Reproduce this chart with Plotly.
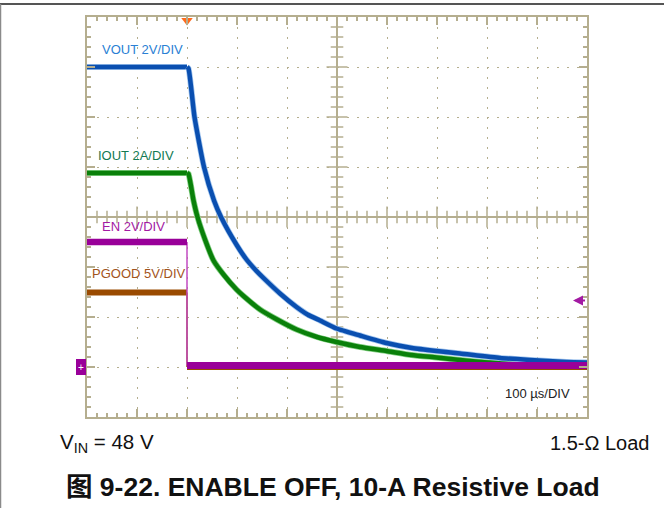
import plotly.graph_objects as go
import numpy as np

# ---------------- data (read from the scope capture) ----------------
# time in microseconds (100 us/DIV, trigger at t=0), amplitude in divisions (centre = 0)
vout_t = [-200, 0, 3, 15, 34, 54, 68, 100, 119, 139, 153, 186, 219, 241, 266, 299,
          346, 399, 450, 499, 546, 626, 686, 759, 800]
vout_div = [3.0, 3.0, 2.97, 2.0, 1.0, 0.33, 0.0, -0.57, -0.85, -1.08, -1.22, -1.53,
            -1.8, -1.95, -2.07, -2.23, -2.37, -2.52, -2.62, -2.68, -2.73, -2.82,
            -2.86, -2.9, -2.91]

iout_t = [-200, 0, 3, 13, 21, 36, 53, 73, 99, 113, 146, 180, 219, 260, 299,
          346, 399, 449, 499, 546, 566, 620, 700, 800]
iout_div = [0.88, 0.88, 0.86, 0.33, 0.0, -0.45, -0.87, -1.15, -1.45, -1.58, -1.85,
            -2.05, -2.25, -2.4, -2.5, -2.6, -2.68, -2.76, -2.81, -2.86, -2.88,
            -2.92, -2.95, -2.96]

en_t = [-200, 0, 0, 800]
en_div = [-0.5, -0.5, -2.97, -2.97]

pgood_t = [-200, 0, 0, 800]
pgood_div = [-1.51, -1.51, -3.0, -3.0]

channel_labels = ["VOUT 2V/DIV", "IOUT 2A/DIV", "EN 2V/DIV", "PGOOD 5V/DIV"]
label_t = [-174, -182, -174, -194]
label_div = [3.36, 1.24, -0.19, -1.12]
timebase_label = "100 µs/DIV"
vin_label = "V<sub>IN</sub> = 48 V"
load_label = "1.5-Ω Load"
fig_title = "图 9-22. ENABLE OFF, 10-A Resistive Load"

X_RANGE = [-200, 800]
Y_RANGE = [-4, 4]
trigger_t = 0
ground_div = -3
trig_level_div = -1.67

# ---------------- styles ----------------
TAN = "#b5ae8f"
C_VOUT, C_VOUT_H, C_VOUT_L = "#0a4fb0", "#a4c6ee", "#2a7fd4"
C_IOUT, C_IOUT_H, C_IOUT_L = "#0a800a", "#86d086", "#137a52"
C_EN, C_EN_L = "#990099", "#a31aa3"
C_PG, C_PG_L = "#9a4a00", "#a3541c"
FONT = "Liberation Sans, Arial, Noto Sans CJK SC, sans-serif"

fig = go.Figure()

# centre-crosshair tick marks (drawn first, under the signals)
xc = (X_RANGE[0] + X_RANGE[1]) / 2
yc = (Y_RANGE[0] + Y_RANGE[1]) / 2
minor_x = [v for v in np.arange(X_RANGE[0] + 20, X_RANGE[1], 20) if v % 100 != 0]
major_x = [v for v in np.arange(X_RANGE[0] + 100, X_RANGE[1], 100)]
minor_y = [round(v, 2) for v in np.arange(Y_RANGE[0] + 0.2, Y_RANGE[1] - 0.1, 0.2)
           if abs(v - round(v)) > 0.05]
major_y = [v for v in range(Y_RANGE[0] + 1, Y_RANGE[1])]
for xs, ys, sym, sz in [(minor_x, [yc] * len(minor_x), "line-ns", 9),
                        (major_x, [yc] * len(major_x), "line-ns", 15),
                        ([xc] * len(minor_y), minor_y, "line-ew", 9),
                        ([xc] * len(major_y), major_y, "line-ew", 15)]:
    fig.add_trace(go.Scatter(x=xs, y=ys, mode="markers", hoverinfo="skip",
                             marker=dict(symbol=sym, size=sz, color=TAN,
                                         line=dict(width=1.5, color=TAN))))


def add_signal(ts, vs, core, halo, core_w=4.5, halo_w=6):
    k = ts.index(0)
    for seg_t, seg_v, shape in [(ts[:k + 1], vs[:k + 1], "linear"),
                                (ts[k:], vs[k:], "spline")]:
        if halo:
            fig.add_trace(go.Scatter(x=seg_t, y=seg_v, mode="lines", hoverinfo="skip",
                                     line=dict(color=halo, width=halo_w, shape=shape,
                                               smoothing=0.5)))
        fig.add_trace(go.Scatter(x=seg_t, y=seg_v, mode="lines", hoverinfo="skip",
                                 line=dict(color=core, width=core_w, shape=shape,
                                           smoothing=0.5)))


def add_step(ts, vs, color, edge_color, hi_w, lo_w):
    fig.add_trace(go.Scatter(x=ts[1:3], y=vs[1:3], mode="lines", hoverinfo="skip",
                             line=dict(color=edge_color, width=1.5)))
    fig.add_trace(go.Scatter(x=ts[:2], y=vs[:2], mode="lines", hoverinfo="skip",
                             line=dict(color=color, width=hi_w)))
    fig.add_trace(go.Scatter(x=ts[2:], y=vs[2:], mode="lines", hoverinfo="skip",
                             line=dict(color=color, width=lo_w)))


add_step(pgood_t, pgood_div, C_PG, C_PG, 6, 6)
add_signal(iout_t, iout_div, C_IOUT, C_IOUT_H)
add_signal(vout_t, vout_div, C_VOUT, C_VOUT_H)
add_step(en_t, en_div, C_EN, "#c24ac2", 6.5, 7)

# trigger position marker (top)
fig.add_trace(go.Scatter(x=[trigger_t], y=[Y_RANGE[1] - 0.07], mode="markers",
                         cliponaxis=False, hoverinfo="skip",
                         marker=dict(symbol="triangle-down", size=10, color="#ff6a1a")))

shapes = [
    dict(type="line", xref="x", yref="y", x0=xc, x1=xc, y0=Y_RANGE[0], y1=Y_RANGE[1],
         line=dict(color=TAN, width=2), layer="below"),
    dict(type="line", xref="paper", yref="paper", x0=-0.2, x1=1.2, y0=1.0325, y1=1.0325,
         line=dict(color="#555555", width=2)),
    dict(type="line", xref="paper", yref="paper", x0=-0.173, x1=-0.173, y0=-0.25, y1=1.0325,
         line=dict(color="#8a8a8a", width=1.5)),
    # ground reference marker box
    dict(type="rect", xref="paper", yref="y", x0=-0.022, x1=-0.002,
         y0=ground_div - 0.16, y1=ground_div + 0.16,
         fillcolor=C_EN, line=dict(width=0)),
]

annotations = []
for txt, tt, yy, col in zip(channel_labels, label_t, label_div,
                            [C_VOUT_L, C_IOUT_L, C_EN_L, C_PG_L]):
    annotations.append(dict(x=tt, y=yy, xref="x", yref="y", text=txt, showarrow=False,
                            xanchor="left", yanchor="middle",
                            font=dict(family=FONT, size=13, color=col)))
annotations += [
    dict(x=632, y=-3.53, xref="x", yref="y", text=timebase_label, showarrow=False,
         xanchor="left", yanchor="middle", font=dict(family=FONT, size=13, color="#222")),
    dict(x=-0.058, y=-0.066, xref="paper", yref="paper", text=vin_label, showarrow=False,
         xanchor="left", yanchor="middle", font=dict(family=FONT, size=20.5, color="#111")),
    dict(x=1.128, y=-0.066, xref="paper", yref="paper", text=load_label, showarrow=False,
         xanchor="right", yanchor="middle", font=dict(family=FONT, size=20, color="#111")),
    dict(x=0.492, y=-0.174, xref="paper", yref="paper", text="<b>" + fig_title + "</b>",
         showarrow=False, xanchor="center", yanchor="middle",
         font=dict(family=FONT, size=26.5, color="#111")),
    dict(x=-0.012, y=ground_div, xref="paper", yref="y", text="+", showarrow=False,
         xanchor="center", yanchor="middle",
         font=dict(family=FONT, size=10, color="white")),
    # trigger level arrow
    dict(x=772, y=trig_level_div, xref="x", yref="y", ax=X_RANGE[1] - 1, ay=trig_level_div,
         axref="x", ayref="y", text="", showarrow=True, arrowhead=2, arrowsize=1,
         arrowwidth=2, arrowcolor="#a31aa3"),
]

axis_common = dict(showticklabels=False, showgrid=True, gridcolor=TAN, gridwidth=1,
                   griddash="2px,8px", showline=True, linecolor=TAN, linewidth=2,
                   mirror="ticks", ticks="inside", ticklen=8, tickwidth=1.5,
                   tickcolor=TAN, fixedrange=True)
fig.update_layout(
    width=664, height=508,
    margin=dict(l=87, r=77, t=17, b=91),
    paper_bgcolor="white", plot_bgcolor="white",
    showlegend=False,
    xaxis=dict(range=X_RANGE, tick0=X_RANGE[0], dtick=100, zeroline=False,
               minor=dict(dtick=20, tick0=X_RANGE[0], ticks="inside", ticklen=4,
                          tickwidth=1.5, tickcolor=TAN, showgrid=False),
               **axis_common),
    yaxis=dict(range=Y_RANGE, tick0=Y_RANGE[0], dtick=1, zeroline=True,
               zerolinecolor=TAN, zerolinewidth=2,
               minor=dict(dtick=0.2, tick0=Y_RANGE[0], ticks="inside", ticklen=4,
                          tickwidth=1.5, tickcolor=TAN, showgrid=False),
               **axis_common),
    shapes=shapes,
    annotations=annotations,
)

fig.write_html("out.html", config={"displayModeBar": False},
               post_script="document.body.style.margin='0';document.body.style.padding='0';")
